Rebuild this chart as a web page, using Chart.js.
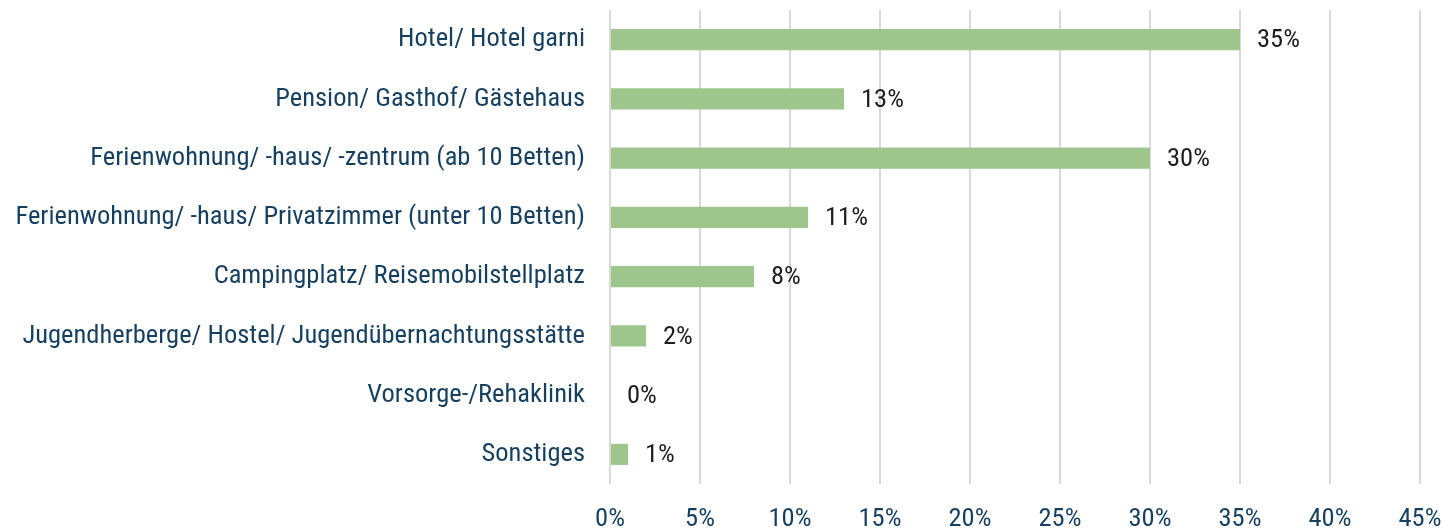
<!DOCTYPE html>
<html>
<head>
<meta charset="utf-8">
<script src="https://cdn.jsdelivr.net/npm/chart.js@4/dist/chart.umd.min.js"></script>
<style>
  html, body { margin: 0; padding: 0; background: #fff; }
  #wrap { width: 1443px; height: 530px; }
</style>
</head>
<body>
<div id="wrap"><canvas id="c"></canvas></div>
<script>
const categories = [
  'Hotel/ Hotel garni',
  'Pension/ Gasthof/ Gästehaus',
  'Ferienwohnung/ -haus/ -zentrum (ab 10 Betten)',
  'Ferienwohnung/ -haus/ Privatzimmer (unter 10 Betten)',
  'Campingplatz/ Reisemobilstellplatz',
  'Jugendherberge/ Hostel/ Jugendübernachtungsstätte',
  'Vorsorge-/Rehaklinik',
  'Sonstiges'
];
const shares = [35, 13, 30, 11, 8, 2, 0, 1];
const shareLabels = ['35%', '13%', '30%', '11%', '8%', '2%', '0%', '1%'];

const navy = '#173f5f';
const fam = '"Roboto Condensed", Roboto, sans-serif';

// value labels next to each bar
const valueLabels = {
  id: 'valueLabels',
  afterDatasetsDraw(chart) {
    const { ctx } = chart;
    const meta = chart.getDatasetMeta(0);
    ctx.save();
    ctx.font = '26.5px ' + fam;
    ctx.fillStyle = '#1e1e1e';
    ctx.textBaseline = 'middle';
    ctx.textAlign = 'left';
    meta.data.forEach((bar, i) => {
      ctx.fillText(shareLabels[i], bar.x + 17, bar.y + 1);
    });
    ctx.restore();
  }
};

new Chart(document.getElementById('c'), {
  type: 'bar',
  data: {
    labels: categories,
    datasets: [{
      data: shares,
      backgroundColor: '#9dc58c',
      barPercentage: 0.355,
      categoryPercentage: 1
    }]
  },
  plugins: [valueLabels],
  options: {
    indexAxis: 'y',
    responsive: true,
    maintainAspectRatio: false,
    animation: false,
    layout: { padding: { top: 10, right: 23, bottom: 0, left: 0 } },
    plugins: { legend: { display: false }, tooltip: { enabled: false } },
    scales: {
      x: {
        min: 0, max: 45,
        afterFit: s => { s.height = 46; s.paddingLeft = 0; s.paddingRight = 0; },
        ticks: {
          stepSize: 5,
          color: navy,
          font: { family: fam, size: 26.5 },
          padding: 19,
          maxRotation: 0,
          callback: v => v + '%'
        },
        grid: { color: '#d9d9d9', lineWidth: 2, drawTicks: false },
        border: { display: false }
      },
      y: {
        afterFit: s => { s.width = 610; s.paddingTop = 0; s.paddingBottom = 0; },
        ticks: {
          color: navy,
          font: { family: fam, size: 26.5 },
          padding: 25
        },
        grid: { display: false, drawTicks: false },
        border: { display: false }
      }
    }
  }
});
</script>
</body>
</html>
